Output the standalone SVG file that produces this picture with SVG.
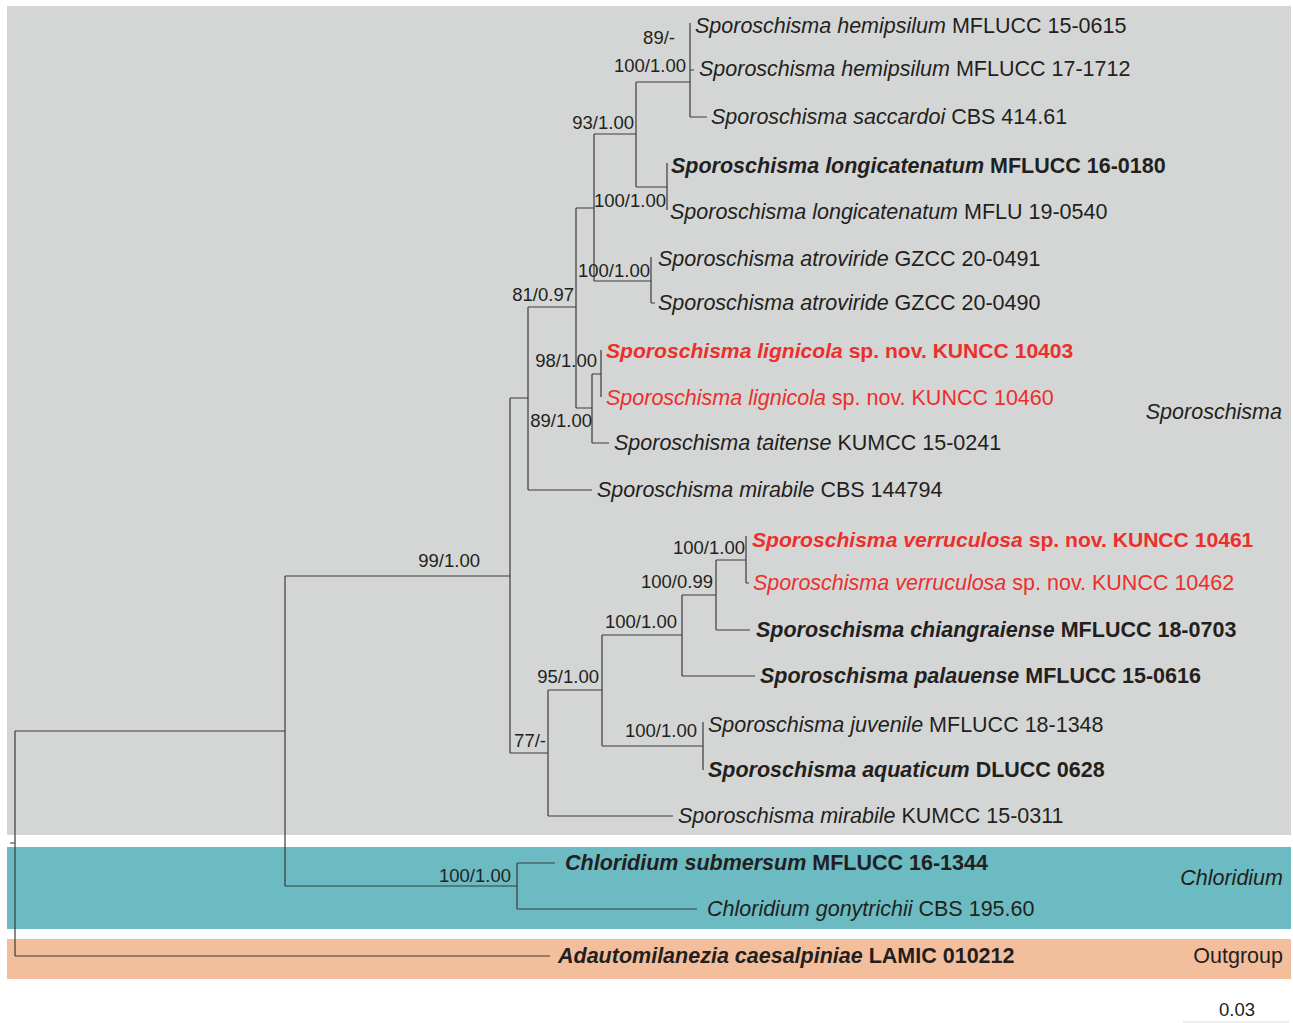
<svg xmlns="http://www.w3.org/2000/svg" width="1293" height="1023" viewBox="0 0 1293 1023">
<style>
text{font-family:"Liberation Sans",Arial,Helvetica,sans-serif;fill:#231f20}
.tip{font-size:21.5px}
.sup{font-size:18.5px;text-anchor:end}
.i{font-style:italic}
.b{font-weight:bold}
.red{fill:#ec2f2b}
.nb{font-size:21.1px}
.clade{font-size:21.5px;text-anchor:end}
.br{fill:none;stroke:#3a3a3a;stroke-width:1.2}
</style>
<rect x="7" y="6" width="1284" height="829" fill="#d4d6d5"/>
<rect x="7" y="847" width="1284" height="82" fill="#6cbbc2"/>
<rect x="7" y="939" width="1284" height="40" fill="#f3be9b"/>
<g id="connectors" class="br">
<path d="M10 843H15M15 731V956M15 731H285M285 576V886M285 576H510M285 886H517M517 863V909M517 863H555M517 909H697M15 956H550"/>
<path d="M510 398V753M510 398H528M528 307V490M528 307H576M528 490H592M576 208V408M576 208H594M594 134V281M594 134H636M636 82V187M636 82H690M690 23V117M690 70H694M690 117H707M636 187H667M667 163V210M594 281H651M651 257V303M651 303H655M576 408H592M592 374V443M592 374H601M601 350V397M592 443H609"/>
<path d="M510 753H548M548 690V816M548 690H602M548 816H673M602 635V746M602 635H682M682 595V676M682 595H716M716 560V630M716 560H746M746 536V583M746 583H749M716 630H750M682 676H755M602 746H703M703 722V770"/>
</g>
<g id="supports">
<text class="sup" x="675" y="44">89/-</text>
<text class="sup" x="686" y="72">100/1.00</text>
<text class="sup" x="634" y="129">93/1.00</text>
<text class="sup" x="666" y="207">100/1.00</text>
<text class="sup" x="650" y="277">100/1.00</text>
<text class="sup" x="574" y="301">81/0.97</text>
<text class="sup" x="597" y="367">98/1.00</text>
<text class="sup" x="592" y="427">89/1.00</text>
<text class="sup" x="480" y="567">99/1.00</text>
<text class="sup" x="745" y="554">100/1.00</text>
<text class="sup" x="713" y="588">100/0.99</text>
<text class="sup" x="677" y="628">100/1.00</text>
<text class="sup" x="599" y="683">95/1.00</text>
<text class="sup" x="697" y="737">100/1.00</text>
<text class="sup" x="546" y="747">77/-</text>
<text class="sup" x="511" y="882">100/1.00</text>
</g>
<g id="tip1"><text class="tip" x="695" y="33"><tspan class="i">Sporoschisma hemipsilum</tspan> MFLUCC 15-0615</text></g>
<g id="tip2"><text class="tip" x="699" y="76"><tspan class="i">Sporoschisma hemipsilum</tspan> MFLUCC 17-1712</text></g>
<g id="tip3"><text class="tip" x="711" y="124"><tspan class="i">Sporoschisma saccardoi</tspan> CBS 414.61</text></g>
<g id="tip4"><text class="tip b" x="671" y="173"><tspan class="i">Sporoschisma longicatenatum</tspan> MFLUCC 16-0180</text></g>
<g id="tip5"><text class="tip" x="670" y="219"><tspan class="i">Sporoschisma longicatenatum</tspan> MFLU 19-0540</text></g>
<g id="tip6"><text class="tip" x="658" y="266"><tspan class="i">Sporoschisma atroviride</tspan> GZCC 20-0491</text></g>
<g id="tip7"><text class="tip" x="658" y="310"><tspan class="i">Sporoschisma atroviride</tspan> GZCC 20-0490</text></g>
<g id="tip8"><text class="tip b red nb" x="606" y="358"><tspan class="i">Sporoschisma lignicola</tspan> sp. nov. KUNCC 10403</text></g>
<g id="tip9"><text class="tip red" x="606" y="405"><tspan class="i">Sporoschisma lignicola</tspan> sp. nov. KUNCC 10460</text></g>
<g id="tip10"><text class="tip" x="614" y="450"><tspan class="i">Sporoschisma taitense</tspan> KUMCC 15-0241</text></g>
<g id="tip11"><text class="tip" x="597" y="497"><tspan class="i">Sporoschisma mirabile</tspan> CBS 144794</text></g>
<g id="tip12"><text class="tip b red nb" x="752" y="547"><tspan class="i">Sporoschisma verruculosa</tspan> sp. nov. KUNCC 10461</text></g>
<g id="tip13"><text class="tip red" x="753" y="590"><tspan class="i">Sporoschisma verruculosa</tspan> sp. nov. KUNCC 10462</text></g>
<g id="tip14"><text class="tip b" x="756" y="637"><tspan class="i">Sporoschisma chiangraiense</tspan> MFLUCC 18-0703</text></g>
<g id="tip15"><text class="tip b" x="760" y="683"><tspan class="i">Sporoschisma palauense</tspan> MFLUCC 15-0616</text></g>
<g id="tip16"><text class="tip" x="708" y="732"><tspan class="i">Sporoschisma juvenile</tspan> MFLUCC 18-1348</text></g>
<g id="tip17"><text class="tip b" x="708" y="777"><tspan class="i">Sporoschisma aquaticum</tspan> DLUCC 0628</text></g>
<g id="tip18"><text class="tip" x="678" y="823"><tspan class="i">Sporoschisma mirabile</tspan> KUMCC 15-0311</text></g>
<g id="tip19"><text class="tip b" x="565" y="870"><tspan class="i">Chloridium submersum</tspan> MFLUCC 16-1344</text></g>
<g id="tip20"><text class="tip" x="707" y="916"><tspan class="i">Chloridium gonytrichii</tspan> CBS 195.60</text></g>
<g id="tip21"><text class="tip b" x="558" y="963"><tspan class="i">Adautomilanezia caesalpiniae</tspan> LAMIC 010212</text></g>
<g id="clades">
<text class="clade i" x="1282" y="419">Sporoschisma</text>
<text class="clade i" x="1283" y="885">Chloridium</text>
<text class="clade" x="1283" y="963">Outgroup</text>
</g>
<g id="scale">
<text x="1237" y="1016" font-size="18.5" text-anchor="middle">0.03</text>
<line x1="1183" y1="1022" x2="1289" y2="1022" stroke="#dcdcdc" stroke-width="1"/>
</g>
</svg>
